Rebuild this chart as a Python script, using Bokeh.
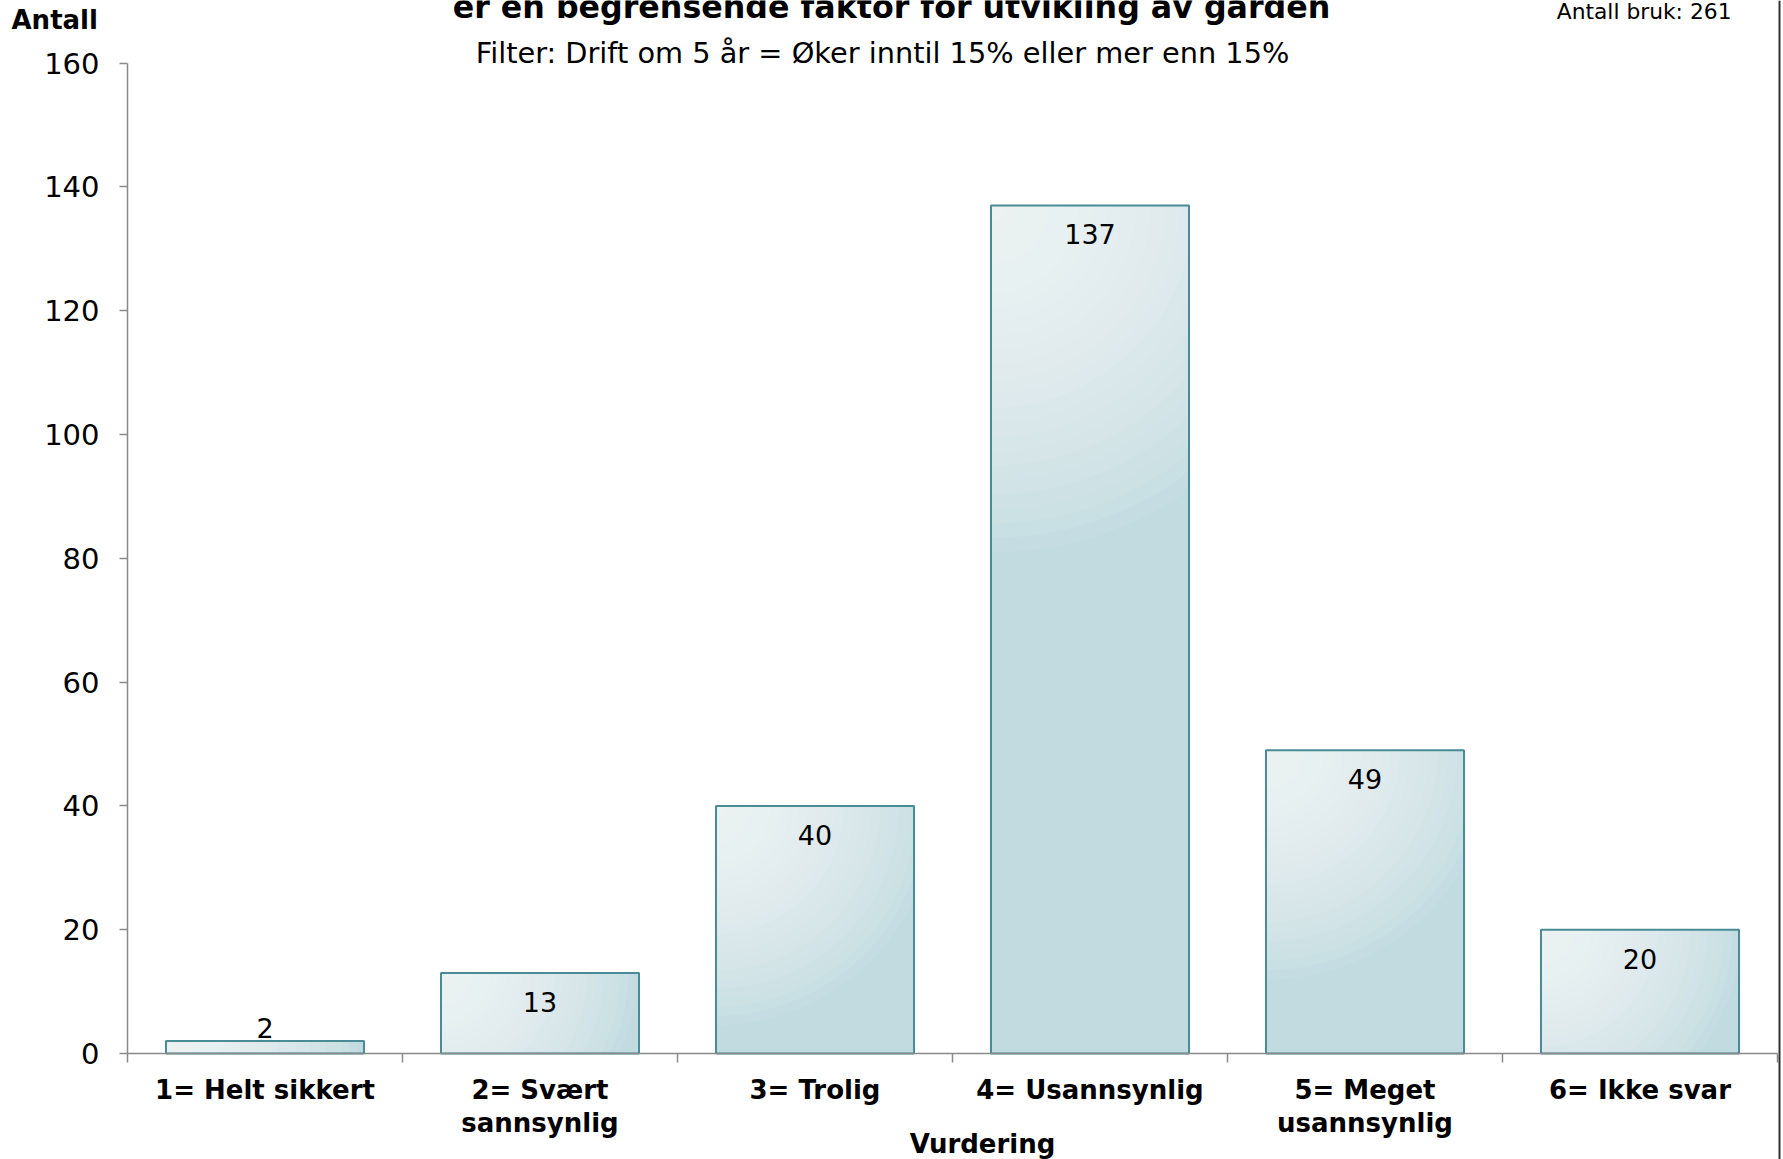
import math
from bokeh.plotting import figure
from bokeh.models import ColumnDataSource, FixedTicker, Label, LabelSet, Range1d, Span
from bokeh.core.properties import value
from bokeh.embed import file_html
from bokeh.resources import INLINE

# ---- data ----
categories = ["1= Helt sikkert", "2= Svært\nsannsynlig", "3= Trolig",
              "4= Usannsynlig", "5= Meget\nusannsynlig", "6= Ikke svar"]
counts = [2, 13, 40, 137, 49, 20]
y_ticks = [0, 20, 40, 60, 80, 100, 120, 140, 160]
title_text = "er en begrensende faktor for utvikling av garden"
subtitle_text = "Filter: Drift om 5 år = Øker inntil 15% eller mer enn 15%"
count_text = "Antall bruk: 261"
y_label = "Antall"
x_label = "Vurdering"

# ---- layout (canvas pixels) ----
W, H = 1783, 1159
AX_L, AX_R = 127, 1777          # plot area left / right
AX_TOP, AX_BASE = 62.5, 1053    # y of top tick / baseline
FONT = "DejaVu Sans"
BAR_W = 0.72
GRAY = "#8a8a8a"

ncat = len(categories)
xs = list(range(1, ncat + 1))
PXX = (AX_R - AX_L) / ncat
PY = (AX_BASE - AX_TOP) / (y_ticks[-1] - y_ticks[0])


def fx(px):
    return 0.5 + (px - AX_L) / PXX


def fy(py):
    return (AX_BASE - py) / PY


p = figure(width=W, height=H, output_backend="svg", toolbar_location=None,
           x_range=Range1d(fx(0), fx(W)), y_range=Range1d(fy(H), fy(0)),
           min_border=0)
p.outline_line_color = None
p.xgrid.visible = False
p.ygrid.visible = False
p.background_fill_color = "white"
p.border_fill_color = "white"

# ---- bars: base colour + white radial layers (light at top-left corner) ----
p.vbar(x=xs, width=BAR_W, top=counts, bottom=0,
       fill_color="#c2dbe0", line_color=None)

N, A = 24, 0.063
bw_px = BAR_W * PXX
angles = [math.radians(90 * i / 24) for i in range(25)]
for k in range(1, N + 1):
    pxs, pys = [], []
    for x, c in zip(xs, counts):
        h_px = c * PY
        R = 146 + 0.231 * math.hypot(bw_px, h_px)
        r = R * k / N
        pts = [(0, 0)] + [(min(r * math.cos(a), bw_px), min(r * math.sin(a), h_px))
                          for a in angles]
        left = x - BAR_W / 2
        pxs.append([left + u / PXX for u, _ in pts])
        pys.append([c - v / PY for _, v in pts])
    p.patches(xs=pxs, ys=pys, fill_color="white", fill_alpha=A, line_color=None)

p.vbar(x=xs, width=BAR_W, top=counts, bottom=0,
       fill_color=None, line_color="#4a8c95", line_width=2)

# ---- value labels ----
offsets = [-29 if c * PY >= 45 else 13 for c in counts]
lab_src = ColumnDataSource(dict(x=xs, y=counts, text=[str(c) for c in counts],
                                off=offsets))
p.add_layout(LabelSet(x="x", y="y", text="text", y_offset="off", source=lab_src,
                      text_align="center", text_baseline="middle",
                      text_font=value(FONT), text_font_size="27px",
                      text_color="black"))

# ---- axes (drawn at fixed data locations) ----
yax = p.yaxis[0]
yax.fixed_location = 0.5
yax.bounds = (y_ticks[0], y_ticks[-1])
yax.ticker = FixedTicker(ticks=y_ticks, minor_ticks=[])
yax.major_tick_out = 8
yax.major_tick_in = 0
yax.minor_tick_out = 0
yax.minor_tick_in = 0
yax.axis_line_color = GRAY
yax.axis_line_width = 1.5
yax.major_tick_line_color = GRAY
yax.major_tick_line_width = 1.5
yax.major_label_text_font = FONT
yax.major_label_text_font_size = "29px"
yax.major_label_text_color = "black"
yax.major_label_standoff = 20

xax = p.xaxis[0]
xax.fixed_location = 0
xax.bounds = (0.5, ncat + 0.5)
xax.ticker = FixedTicker(ticks=xs, minor_ticks=[x - 0.5 for x in xs] + [xs[-1] + 0.5])
xax.major_label_overrides = {x: c for x, c in zip(xs, categories)}
xax.major_tick_out = 0
xax.major_tick_in = 0
xax.minor_tick_out = 9
xax.minor_tick_in = 0
xax.minor_tick_line_color = GRAY
xax.minor_tick_line_width = 1.5
xax.axis_line_color = GRAY
xax.axis_line_width = 1.5
xax.major_label_text_font = FONT
xax.major_label_text_font_style = "bold"
xax.major_label_text_font_size = "26px"
xax.major_label_text_line_height = 1.12
xax.major_label_text_color = "black"
xax.major_label_standoff = 12

# ---- chart border on the right ----
p.add_layout(Span(location=fx(AX_R + 2), dimension="height",
                  line_color="#333333", line_width=2))


# ---- texts ----
def lab(text, px, py, size, align="center", baseline="middle", bold=False):
    return Label(x=fx(px), y=fy(py), text=text,
                 text_align=align, text_baseline=baseline,
                 text_font=FONT, text_font_size=size,
                 text_font_style="bold" if bold else "normal",
                 text_color="black")


p.add_layout(lab(title_text, 891, 6, "31.7px", baseline="alphabetic", bold=True))
p.add_layout(lab(subtitle_text, 882, 52, "28.8px"))
p.add_layout(lab(count_text, 1731, 11, "21.8px", align="right"))
p.add_layout(lab(y_label, 11, 19, "26px", align="left", bold=True))
p.add_layout(lab(x_label, 982, 1143, "26px", bold=True))

open("out.html", "w").write(file_html(p, INLINE))
